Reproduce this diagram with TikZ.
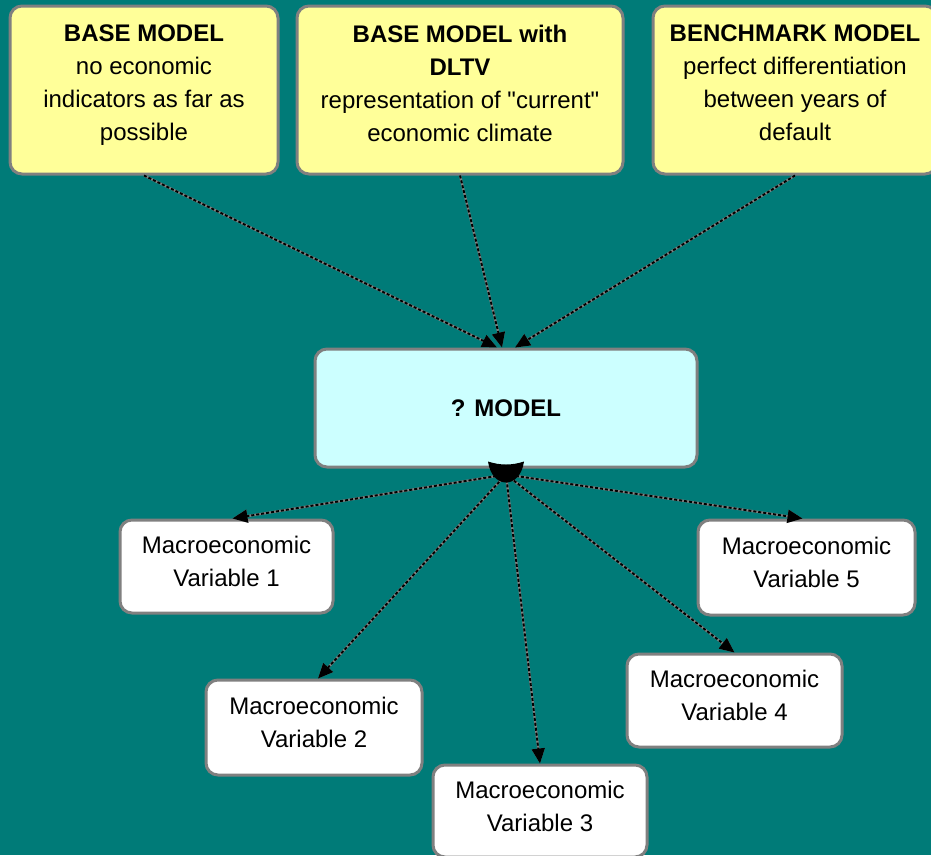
\documentclass[tikz,border=0pt]{standalone}
\usepackage{fontspec}
\setmainfont{Liberation Sans}[Ligatures=TeXOff]
\usetikzlibrary{arrows.meta}
\definecolor{bgteal}{RGB}{0,123,120}
\definecolor{boxgrey}{RGB}{128,128,128}
\definecolor{noteyellow}{RGB}{255,255,153}
\definecolor{modelcyan}{RGB}{204,255,255}
\tikzset{
  box/.style={rectangle, rounded corners=12pt, draw=boxgrey, line width=3pt,
    inner sep=0pt, align=center, text=black,
    font=\fontsize{24}{33}\selectfont},
  notebox/.style={box, fill=noteyellow},
  modelbox/.style={box, fill=modelcyan},
  varbox/.style={box, fill=white},
  link/.style={line width=1.9pt, black, dash pattern=on 3pt off 2pt,
    preaction={draw=boxgrey, line width=2.3pt, solid},
    -{Triangle[length=15pt,width=13pt]}}
}
\begin{document}
\begin{tikzpicture}[x=1pt,y=-1pt]
  % page and backdrop
  \fill[bgteal] (0,0) rectangle (931,855);
  \useasboundingbox (0,0) rectangle (931,855);
  \clip (0,0) rectangle (931,855);

  % candidate models
  \node[notebox, minimum width=268pt, minimum height=168pt] (base) at (144,90)
    {\textbf{BASE MODEL}\\no economic\\indicators as far as\\possible\\[-19pt]\mbox{}};
  \node[notebox, minimum width=326pt, minimum height=168pt] (dltv) at (460,90)
    {\textbf{BASE MODEL with}\\\textbf{DLTV}\\representation of "current"\\economic climate\\[-19pt]\mbox{}};
  \node[notebox, minimum width=284pt, minimum height=168pt] (bench) at (795,90)
    {\textbf{BENCHMARK MODEL}\\perfect differentiation\\between years of\\default\\[-19pt]\mbox{}};

  % the model being chosen
  \node[modelbox, minimum width=382pt, minimum height=118pt] (qm) at (506,408)
    {\textbf{? MODEL}};

  % macroeconomic variables
  \node[varbox, minimum width=213pt, minimum height=93pt] (v1) at (226.5,566.5)
    {Macroeconomic\\Variable 1\\[-23pt]\mbox{}};
  \node[varbox, minimum width=216pt, minimum height=95pt] (v2) at (314,727.5)
    {Macroeconomic\\Variable 2\\[-23pt]\mbox{}};
  \node[varbox, minimum width=214pt, minimum height=92pt] (v3) at (540,811)
    {Macroeconomic\\Variable 3\\[-23pt]\mbox{}};
  \node[varbox, minimum width=215pt, minimum height=93pt] (v4) at (734.5,700.5)
    {Macroeconomic\\Variable 4\\[-23pt]\mbox{}};
  \node[varbox, minimum width=217pt, minimum height=95pt] (v5) at (806.5,567.5)
    {Macroeconomic\\Variable 5\\[-23pt]\mbox{}};

  % links from the candidate models
  \draw[link] (base.south) -- ([xshift=-9pt]qm.north);
  \draw[link] (dltv.south) -- ([xshift=-4pt]qm.north);
  \draw[link] (bench.south) -- ([xshift=9pt]qm.north);

  % links to the variables, fanning out from a common hub
  \coordinate (hub) at ([yshift=-6pt]qm.south);
  \draw[link] (hub) -- ([xshift=6pt]v1.north);
  \draw[link] (hub) -- ([xshift=4pt]v2.north);
  \draw[link] (hub) -- (v3.north);
  \draw[link] (hub) -- (v4.north);
  \draw[link] (hub) -- ([xshift=-4pt]v5.north);

  % cup-shaped hub under the model box
  \fill[black] ([xshift=-18pt,yshift=7pt]qm.south)
    .. controls ([xshift=-6pt,yshift=3pt]qm.south) and ([xshift=6pt,yshift=3pt]qm.south)
    .. ([xshift=18pt,yshift=7pt]qm.south)
    .. controls ([xshift=14pt,yshift=-21pt]qm.south) and ([xshift=-14pt,yshift=-21pt]qm.south)
    .. cycle;
\end{tikzpicture}
\end{document}
